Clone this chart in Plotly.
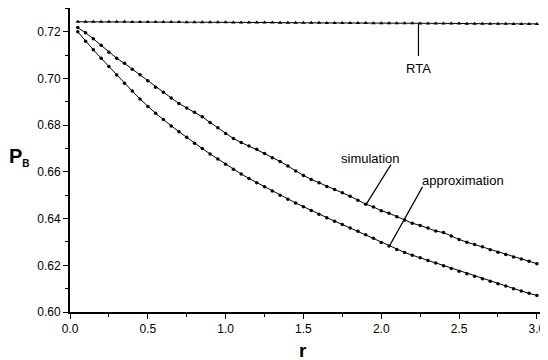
import plotly.graph_objects as go

r_values = [round(0.05 * i, 2) for i in range(1, 61)]

simulation = [
    0.7218, 0.7196, 0.7170, 0.7142, 0.7113, 0.7087, 0.7065, 0.7040, 0.7016, 0.6990,
    0.6963, 0.6941, 0.6917, 0.6893, 0.6874, 0.6856, 0.6836, 0.6812, 0.6789, 0.6765,
    0.6743, 0.6726, 0.6711, 0.6697, 0.6679, 0.6661, 0.6645, 0.6625, 0.6604, 0.6585,
    0.6568, 0.6554, 0.6538, 0.6525, 0.6511, 0.6496, 0.6479, 0.6462, 0.6450, 0.6434,
    0.6423, 0.6408, 0.6394, 0.6380, 0.6371, 0.6360, 0.6347, 0.6340, 0.6325, 0.6311,
    0.6299, 0.6289, 0.6279, 0.6267, 0.6256, 0.6246, 0.6236, 0.6227, 0.6217, 0.6207,
]

approximation = [
    0.7200, 0.7160, 0.7123, 0.7087, 0.7051, 0.7015, 0.6980, 0.6946, 0.6912, 0.6880,
    0.6851, 0.6824, 0.6797, 0.6772, 0.6748, 0.6723, 0.6700, 0.6677, 0.6655, 0.6633,
    0.6611, 0.6591, 0.6572, 0.6554, 0.6536, 0.6518, 0.6500, 0.6483, 0.6467, 0.6451,
    0.6435, 0.6419, 0.6404, 0.6389, 0.6375, 0.6360, 0.6346, 0.6331, 0.6316, 0.6298,
    0.6283, 0.6268, 0.6255, 0.6243, 0.6232, 0.6221, 0.6210, 0.6198, 0.6186, 0.6175,
    0.6164, 0.6153, 0.6142, 0.6132, 0.6121, 0.6111, 0.6100, 0.6090, 0.6080, 0.6071,
]

rta = [
    0.7243, 0.7243, 0.7243, 0.7243, 0.7243, 0.7243, 0.7243, 0.7242, 0.7242, 0.7242,
    0.7242, 0.7242, 0.7242, 0.7242, 0.7241, 0.7241, 0.7241, 0.7241, 0.7241, 0.7241,
    0.7240, 0.7240, 0.7240, 0.7240, 0.7240, 0.7240, 0.7239, 0.7239, 0.7239, 0.7239,
    0.7239, 0.7239, 0.7238, 0.7238, 0.7238, 0.7238, 0.7238, 0.7238, 0.7237, 0.7237,
    0.7237, 0.7237, 0.7237, 0.7237, 0.7236, 0.7236, 0.7236, 0.7236, 0.7236, 0.7236,
    0.7235, 0.7235, 0.7235, 0.7235, 0.7235, 0.7235, 0.7234, 0.7234, 0.7234, 0.7234,
]

x_ticks = [0.0, 0.5, 1.0, 1.5, 2.0, 2.5, 3.0]
x_tick_labels = ["0.0", "0.5", "1.0", "1.5", "2.0", "2.5", "3.0"]
y_ticks = [0.60, 0.62, 0.64, 0.66, 0.68, 0.70, 0.72]
y_tick_labels = ["0.60", "0.62", "0.64", "0.66", "0.68", "0.70", "0.72"]

FONT = "Liberation Sans, Arial, sans-serif"

fig = go.Figure()
fig.add_trace(go.Scatter(
    x=r_values, y=rta, mode="lines+markers", name="RTA",
    line=dict(color="black", width=1),
    marker=dict(symbol="triangle-up", size=4, color="black"),
))
fig.add_trace(go.Scatter(
    x=r_values, y=simulation, mode="lines+markers", name="simulation",
    line=dict(color="black", width=1),
    marker=dict(symbol="circle", size=3.5, color="black"),
))
fig.add_trace(go.Scatter(
    x=r_values, y=approximation, mode="lines+markers", name="approximation",
    line=dict(color="black", width=1),
    marker=dict(symbol="circle", size=3.5, color="black"),
))

# leader lines
leaders = [
    (2.239, 0.7236, 2.239, 0.7096),
    (2.062, 0.6631, 1.902, 0.6460),
    (2.265, 0.6536, 2.051, 0.6281),
]
for x0, y0, x1, y1 in leaders:
    fig.add_shape(type="line", xref="x", yref="y", x0=x0, y0=y0, x1=x1, y1=y1,
                  line=dict(color="black", width=1.2))

labels = [
    ("RTA", 2.24, 0.7043),
    ("simulation", 1.93, 0.6657),
    ("approximation", 2.526, 0.6563),
]
for text, lx, ly in labels:
    fig.add_annotation(x=lx, y=ly, xref="x", yref="y", text=text, showarrow=False,
                       font=dict(family=FONT, size=13, color="black"))

fig.add_annotation(x=-0.108, y=0.6662, xref="paper", yref="y", xanchor="center",
                   text="<b>P<sub><span style='font-size:10px'>B</span></sub></b>",
                   showarrow=False,
                   font=dict(family=FONT, size=20, color="black"))
fig.add_annotation(x=1.5, y=-0.125, xref="x", yref="paper", yanchor="middle",
                   text="<b>r</b>", showarrow=False,
                   font=dict(family=FONT, size=19, color="black"))

fig.update_xaxes(
    range=[0, 3.02], tickvals=x_ticks, ticktext=x_tick_labels,
    ticks="outside", ticklen=5, tickwidth=1.2, tickcolor="black",
    minor=dict(dtick=0.25, tick0=0, ticks="outside", ticklen=3, tickcolor="black", tickwidth=1),
    showline=True, linecolor="black", linewidth=1.8, showgrid=False, zeroline=False,
    tickfont=dict(family=FONT, size=12, color="black"),
)
fig.update_yaxes(
    range=[0.60, 0.7302], tickvals=y_ticks, ticktext=y_tick_labels,
    ticks="outside", ticklen=5, tickwidth=1.2, tickcolor="black",
    minor=dict(dtick=0.01, tick0=0.60, ticks="outside", ticklen=3, tickcolor="black", tickwidth=1),
    showline=True, linecolor="black", linewidth=1.8, showgrid=False, zeroline=False,
    tickfont=dict(family=FONT, size=12, color="black"),
)

# page has an 8px body margin, so the figure is drawn 8px smaller and offset
fig.update_layout(
    width=540, height=352,
    margin=dict(l=62, r=8, t=0, b=48),
    plot_bgcolor="white", paper_bgcolor="white",
    showlegend=False,
)

fig.write_html("out.html")
